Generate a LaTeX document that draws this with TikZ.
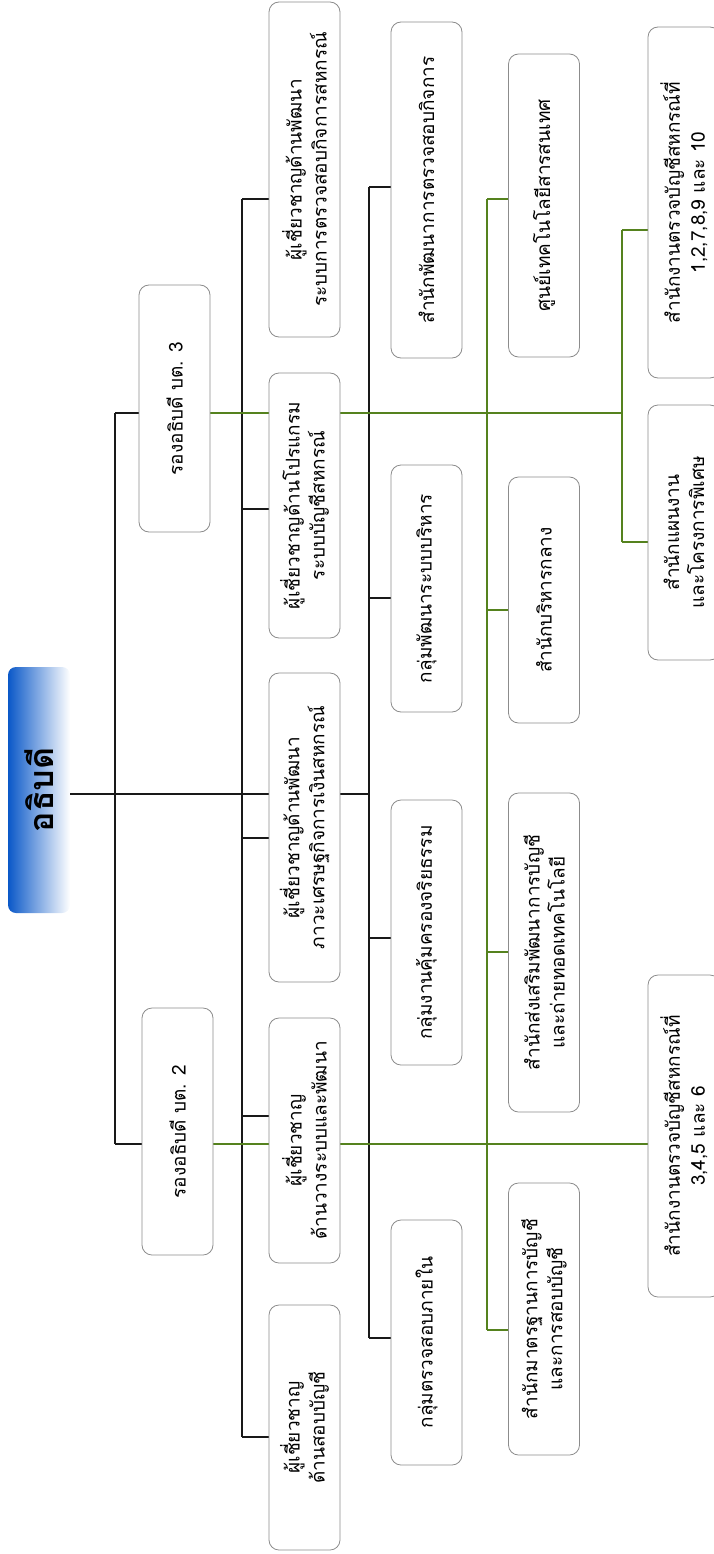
\documentclass[tikz,border=0pt]{standalone}
\usepackage{fontspec}
\setmainfont[Script=Thai]{Loma}
\usetikzlibrary{calc}
\pgfdeclarelayer{bg}
\pgfsetlayers{bg,main}
\definecolor{boxgray}{RGB}{140,140,140}
\definecolor{linek}{RGB}{25,25,25}
\definecolor{lineg}{RGB}{85,130,30}
\definecolor{rootblue}{RGB}{10,88,200}
\definecolor{rootmid}{RGB}{75,135,220}
\begin{document}
\begin{tikzpicture}[x=1pt,y=-1pt,
  box/.style={draw=boxgray, line width=0.8pt, rounded corners=10pt, fill=white,
    rotate=90, inner sep=0pt, align=center, minimum height=71pt,
    font=\fontsize{19}{25}\selectfont},
  conn/.style={draw=linek, line width=1.6pt},
  gconn/.style={draw=lineg, line width=1.4pt},
  rootbox/.style={rotate=90, inner sep=0pt, rounded corners=8pt,
    left color=rootblue, middle color=rootmid, right color=white,
    minimum width=246pt, minimum height=62pt,
    font=\fontsize{34}{34}\selectfont\bfseries}
]
\useasboundingbox (0,0) rectangle (713,1554);
% root
\node[rootbox] (root) at (39,790) {อธิบดี};
% level 1
\node[box, minimum width=247pt] (R3) at (174.5,408.5) {รองอธิบดี บต. 3};
\node[box, minimum width=247pt] (R2) at (177.5,1131.5) {รองอธิบดี บต. 2};
% level 2 experts
\node[box, minimum width=335pt] (A3) at (304.5,169.5) {ผู้เชี่ยวชาญด้านพัฒนา\\ระบบการตรวจสอบกิจการสหกรณ์};
\node[box, minimum width=265pt] (A2) at (304.5,505.5) {ผู้เชี่ยวชาญด้านโปรแกรม\\ระบบบัญชีสหกรณ์};
\node[box, minimum width=309pt] (A1) at (304.5,827.5) {ผู้เชี่ยวชาญด้านพัฒนา\\ภาวะเศรษฐกิจการเงินสหกรณ์};
\node[box, minimum width=245pt] (A0) at (304.5,1140.5) {ผู้เชี่ยวชาญ\\ด้านวางระบบและพัฒนา};
\node[box, minimum width=245pt] (Am) at (304.5,1427.5) {ผู้เชี่ยวชาญ\\ด้านสอบบัญชี};
% level 3
\node[box, minimum width=336pt] (B4) at (426.5,190) {สำนักพัฒนาการตรวจสอบกิจการ};
\node[box, minimum width=247pt] (B3) at (426.5,588.5) {กลุ่มพัฒนาระบบบริหาร};
\node[box, minimum width=265pt] (B2) at (426.5,932.5) {กลุ่มงานคุ้มครองจริยธรรม};
\node[box, minimum width=245pt] (B1) at (426.5,1342.5) {กลุ่มตรวจสอบภายใน};
% level 4
\node[box, minimum width=303pt] (C3) at (544,205.5) {ศูนย์เทคโนโลยีสารสนเทศ};
\node[box, minimum width=246pt] (C2) at (544,600) {สำนักบริหารกลาง};
\node[box, minimum width=319pt] (C1) at (544,952.5) {สำนักส่งเสริมพัฒนาการบัญชี\\และถ่ายทอดเทคโนโลยี};
\node[box, minimum width=272pt] (C0) at (544,1319) {สำนักมาตรฐานการบัญชี\\และการสอบบัญชี};
% level 5
\node[box, minimum width=351pt, minimum height=72pt] (D2) at (684,202.5) {สำนักงานตรวจบัญชีสหกรณ์ที่\\1,2,7,8,9 และ 10};
\node[box, minimum width=255pt, minimum height=72pt] (D1) at (684,532.5) {สำนักแผนงาน\\และโครงการพิเศษ};
\node[box, minimum width=322pt, minimum height=72pt] (D0) at (684,1136) {สำนักงานตรวจบัญชีสหกรณ์ที่\\3,4,5 และ 6};
% junction coordinates
\coordinate (rj) at (369,794);
\coordinate (jR3) at (115,413);
\coordinate (jR2) at (115,1144);
\coordinate (jA3) at (242,199);
\coordinate (jA2) at (242,509);
\coordinate (jA1) at (242,838);
\coordinate (jA0) at (242,1116);
\coordinate (jAm) at (242,1437);
\coordinate (jB4) at (369,187);
\coordinate (jB3) at (369,598);
\coordinate (jB2) at (369,938);
\coordinate (jB1) at (369,1338);
\coordinate (jC3) at (487,199);
\coordinate (jC2) at (487,610);
\coordinate (jC1) at (487,952);
\coordinate (jC0) at (487,1330);
\coordinate (jD2) at (622,230);
\coordinate (jD1) at (622,542);
\coordinate (gD) at (622,413);
\begin{pgfonlayer}{bg}
  % black connectors
  \draw[conn] (rj -| root.south) -- (rj);
  \draw[conn] (jR3) -- (jR2);
  \draw[conn] (jR3) -- (jR3 -| R3.north);
  \draw[conn] (jR2) -- (jR2 -| R2.north);
  \draw[conn] (jA3) -- (jAm);
  \foreach \j/\b in {jA3/A3, jA2/A2, jA1/A1, jA0/A0, jAm/Am}
    \draw[conn] (\j) -- (\j -| \b.north);
  \draw[conn] (jB4) -- (jB1);
  \foreach \j/\b in {jB4/B4, jB3/B3, jB2/B2, jB1/B1}
    \draw[conn] (\j) -- (\j -| \b.north);
  % green connectors
  \draw[gconn] (gD -| R3.south) -- (gD);
  \draw[gconn] (jD2) -- (jD1);
  \draw[gconn] (jD2) -- (jD2 -| D2.north);
  \draw[gconn] (jD1) -- (jD1 -| D1.north);
  \draw[gconn] (jR2 -| R2.south) -- (jR2 -| D0.north);
  \draw[gconn] (jC3) -- (jC0);
  \foreach \j/\b in {jC3/C3, jC2/C2, jC1/C1, jC0/C0}
    \draw[gconn] (\j) -- (\j -| \b.north);
\end{pgfonlayer}
\end{tikzpicture}
\end{document}
